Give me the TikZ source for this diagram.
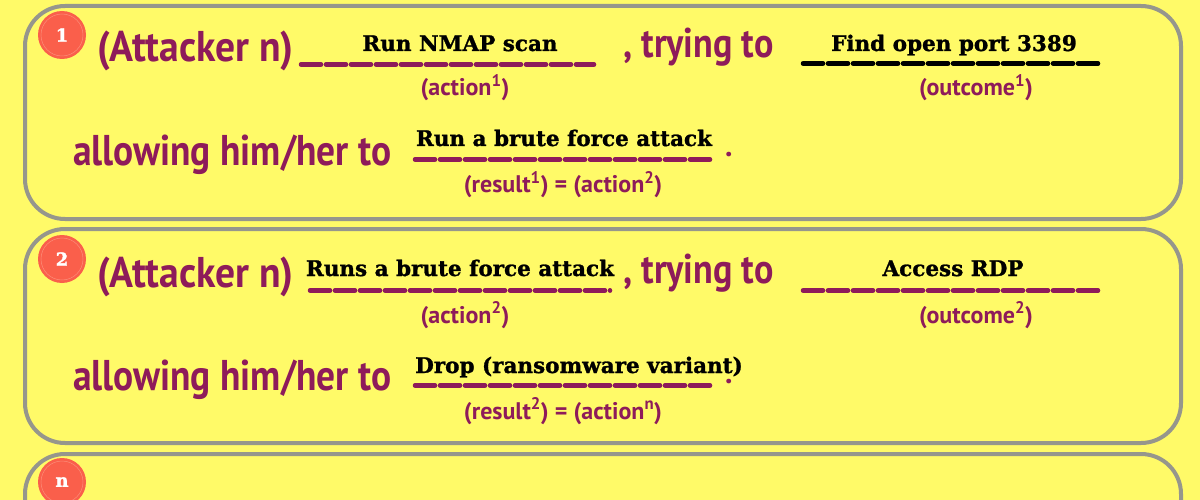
\documentclass[tikz,border=0pt]{standalone}
\usepackage{fontspec}
\newfontfamily\hand{PT Sans Bold}[FakeStretch=0.87]
\newfontfamily\handwide{PT Sans Bold}[FakeStretch=0.92]
\newfontfamily\handsub{PT Sans Bold}
\newfontfamily\slab{DejaVu Serif Bold}[FakeBold=1.2]
\newfontfamily\badgefont{DejaVu Serif Bold}[FakeBold=1.5]
\definecolor{bgyellow}{RGB}{255,250,104}
\definecolor{framegray}{RGB}{150,150,140}
\definecolor{plum}{RGB}{142,27,90}
\definecolor{badgered}{RGB}{250,95,75}
\definecolor{badgering}{RGB}{252,140,120}
\tikzset{
  panel/.style={draw=framegray, line width=4pt, fill=bgyellow, rounded corners=40pt},
  badge/.style={circle, fill=badgered, minimum size=48pt, inner sep=0pt, text=white, font=\badgefont\fontsize{18}{18}\selectfont},
  lead/.style={text=plum, inner sep=0pt, font=\handwide\fontsize{43}{43}\selectfont},
  linker/.style={text=plum, inner sep=0pt, font=\hand\fontsize{41.5}{41.5}\selectfont},
  allowtext/.style={text=plum, inner sep=0pt, font=\hand\fontsize{43}{43}\selectfont},
  sub/.style={text=plum, inner sep=0pt, font=\handsub\fontsize{24}{24}\selectfont},
  stop/.style={text=plum, inner sep=0pt, font=\handsub\fontsize{30}{30}\selectfont},
  fill in/.style={text=black, inner sep=0pt, font=\slab\fontsize{21.5}{21.5}\selectfont},
  blank/.style={line width=4.5pt, line cap=round, dash pattern=on 20pt off 5pt},
}
\begin{document}
\begin{tikzpicture}[x=1pt,y=-1pt]
\useasboundingbox (0,0) rectangle (1200,500);
\clip (0,0) rectangle (1200,500);
\fill[bgyellow] (0,0) rectangle (1200,500);
% panels
\draw[panel] (25,6) rectangle (1181,219);
\draw[panel] (25,229) rectangle (1181,443);
\draw[panel] (25,454) rectangle (1181,668);
% badges
\node[badge] (b1) at (62,35) {1};
\node[badge] (b2) at (62,259) {2};
\node[badge] (b3) at (62,482) {n};
\foreach \b in {b1,b2,b3} \draw[badgering, line width=0.5pt] (\b.center) circle (21pt);
% ---------- panel 1 ----------
\node[lead, anchor=base west] (att1) at (97,62) {(Attacker n)};
\coordinate (u1a) at (301,64.5); \coordinate (u1b) at (594,64.5);
\draw[blank, plum] (u1a) -- (u1b);
\node[fill in, anchor=base] (act1) at (460,51) {Run NMAP scan};
\node[sub, anchor=base] (lab1a) at (465,96) {(action\textsuperscript{1})};
\node[linker, anchor=base west] (try1) at (623,58) {, trying to};
\coordinate (o1a) at (803,63.5); \coordinate (o1b) at (1102,63.5);
\draw[blank, black] (o1a) -- (o1b);
\node[fill in, anchor=base] (out1) at (954,51) {Find open port 3389};
\node[sub, anchor=base] (lab1b) at (976,96) {(outcome\textsuperscript{1})};
\node[allowtext, anchor=base west] (allow1) at (73,165) {allowing him/her to};
\coordinate (r1a) at (415,159.5); \coordinate (r1b) at (713,159.5);
\draw[blank, plum] (r1a) -- (r1b);
\node[fill in, anchor=base] (res1) at (564,146) {Run a brute force attack};
\node[stop, anchor=base west] (dot1) at (725,157) {.};
\node[sub, anchor=base] (lab1c) at (563,193) {(result\textsuperscript{1}) = (action\textsuperscript{2})};
% ---------- panel 2 ----------
\node[lead, anchor=base west] (att2) at (97,287) {(Attacker n)};
\coordinate (u2a) at (310,290.5); \coordinate (u2b) at (610,290.5);
\draw[blank, plum] (u2a) -- (u2b);
\node[fill in, anchor=base] (act2) at (460,276) {Runs a brute force attack};
\node[sub, anchor=base] (lab2a) at (465,323) {(action\textsuperscript{2})};
\node[linker, anchor=base west] (try2) at (623,283) {, trying to};
\coordinate (o2a) at (803,290.5); \coordinate (o2b) at (1102,290.5);
\draw[blank, plum] (o2a) -- (o2b);
\node[fill in, anchor=base] (out2) at (953,276) {Access RDP};
\node[sub, anchor=base] (lab2b) at (976,323) {(outcome\textsuperscript{2})};
\node[allowtext, anchor=base west] (allow2) at (73,390) {allowing him/her to};
\coordinate (r2a) at (415,385.5); \coordinate (r2b) at (713,385.5);
\draw[blank, plum] (r2a) -- (r2b);
\node[fill in, anchor=base west] (res2) at (415,373) {Drop (ransomware variant)};
\node[stop, anchor=base west] (dot2) at (725,383) {.};
\node[sub, anchor=base] (lab2c) at (563,419) {(result\textsuperscript{2}) = (action\textsuperscript{n})};
\end{tikzpicture}
\end{document}
